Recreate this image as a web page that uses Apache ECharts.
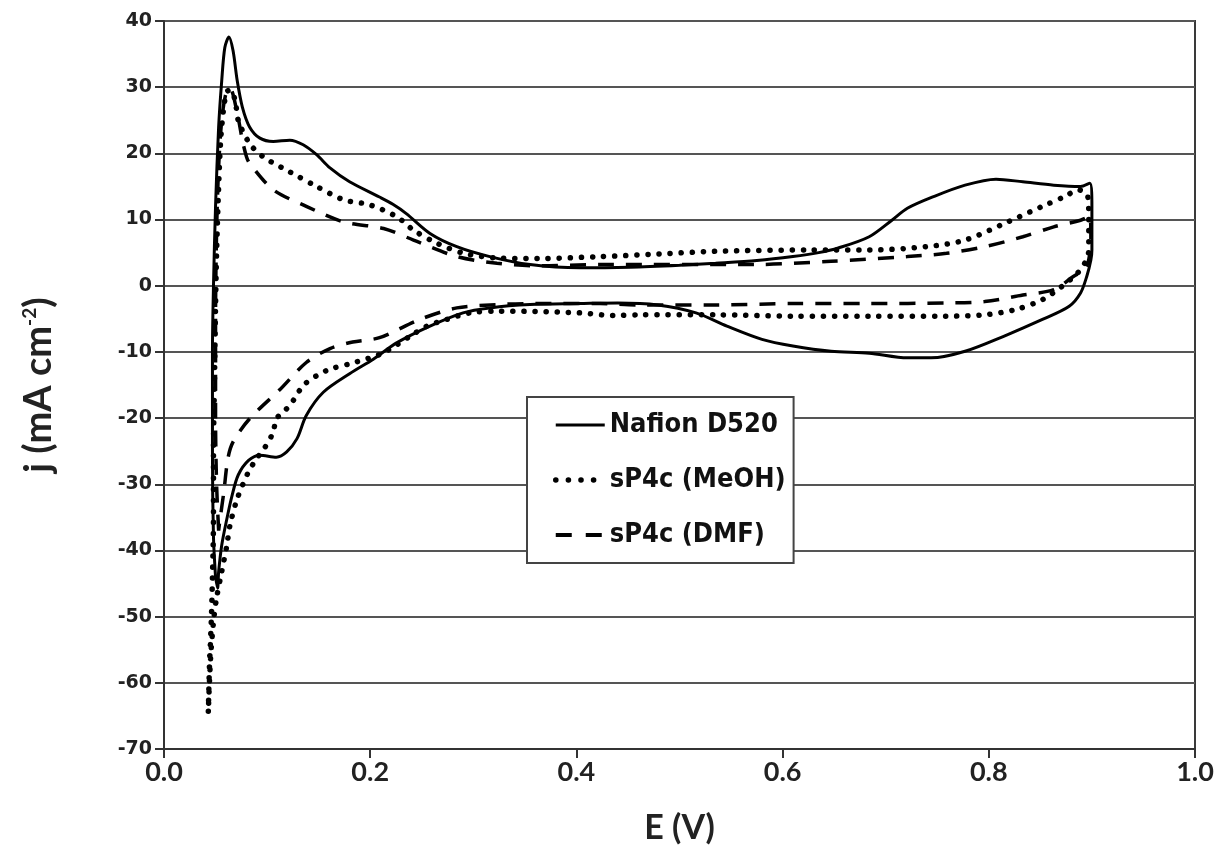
<!DOCTYPE html>
<html>
<head>
<meta charset="utf-8">
<script src="https://cdn.jsdelivr.net/npm/echarts@6/dist/echarts.min.js"></script>
<style>
html,body{margin:0;padding:0;background:#fff;}
#chart{width:1220px;height:850px;}
</style>
</head>
<body>
<div id="chart"></div>
<script>
// ---- data ----
const seriesNames = ['Nafion D520', 'sP4c (MeOH)', 'sP4c (DMF)'];
const xTicks = [0.0, 0.2, 0.4, 0.6, 0.8, 1.0];
const yTicks = [40, 30, 20, 10, 0, -10, -20, -30, -40, -50, -60, -70];

const nafionE = [0.050,0.048,0.047,0.047,0.048,0.050,0.053,0.056,0.059,0.063,0.067,0.071,0.076,0.083,0.093,0.106,0.122,0.135,0.148,0.161,0.180,0.209,0.222,0.235,0.258,0.284,0.316,0.355,0.403,0.452,0.500,0.535,0.575,0.610,0.635,0.654,0.684,0.706,0.721,0.747,0.777,0.807,0.833,0.863,0.889,0.898,0.900,0.900,0.899,0.895,0.889,0.878,0.852,0.815,0.777,0.744,0.721,0.684,0.647,0.610,0.580,0.546,0.516,0.479,0.440,0.403,0.355,0.316,0.290,0.258,0.226,0.203,0.180,0.1545,0.138,0.129,0.119,0.109,0.093,0.082,0.072,0.066,0.061,0.056,0.053,0.052,0.050];
const nafionJ = [-44,-38,-25,-10,0,12,24,31,36,37.6,35.5,31,27,24,22.3,21.8,22,21.3,19.8,17.8,15.7,13.4,12.3,10.9,7.9,5.9,4.4,3.2,2.7,2.8,3.1,3.4,3.8,4.4,5.0,5.7,7.4,9.9,11.7,13.5,15.2,16.1,15.7,15.2,15.0,15.5,12,5.4,3.9,1.4,-1.1,-3.1,-5.1,-7.6,-9.9,-10.9,-10.9,-10.2,-9.9,-9.1,-8.1,-6.1,-4.1,-2.9,-2.6,-2.7,-2.85,-3.35,-4.1,-6.1,-8.6,-11.1,-13.3,-16.1,-19.6,-23.1,-25.1,-25.9,-25.6,-26.4,-28.6,-31.7,-35.2,-39.2,-43.2,-45.7,-44];

const meohE = [0.043,0.044,0.046,0.047,0.048,0.048,0.049,0.050,0.051,0.053,0.055,0.058,0.061,0.064,0.069,0.072,0.083,0.096,0.122,0.148,0.174,0.200,0.226,0.242,0.265,0.291,0.323,0.362,0.423,0.480,0.535,0.628,0.684,0.740,0.777,0.815,0.852,0.874,0.887,0.896,0.897,0.897,0.893,0.886,0.871,0.852,0.826,0.796,0.759,0.684,0.610,0.535,0.460,0.436,0.403,0.360,0.323,0.297,0.274,0.255,0.239,0.226,0.209,0.180,0.161,0.148,0.135,0.122,0.109,0.106,0.098,0.090,0.082,0.071,0.064,0.061,0.056,0.051,0.048,0.045,0.043];
const meohJ = [-64.3,-58,-50,-44,-35,-25,-14,-3,5,15,22,27,29.3,29.6,28,25,21.5,19.5,17.2,15,13,12.2,10.4,8.4,6.4,4.9,4.2,4.1,4.4,4.8,5.2,5.4,5.4,5.9,6.9,9.4,12,13.5,14.5,13.5,10,5.4,3.4,1.9,-0.1,-2.1,-3.6,-4.4,-4.6,-4.6,-4.6,-4.4,-4.4,-4.5,-4.1,-3.9,-3.85,-4.1,-5.1,-6.1,-7.6,-8.9,-10.4,-11.8,-12.6,-13.6,-15.1,-18.1,-20.1,-22.1,-24.4,-26.1,-28.1,-32.2,-36.2,-39.2,-43.2,-47.2,-50.8,-56.8,-64.3];

const dmfE = [0.053,0.051,0.050,0.050,0.051,0.053,0.056,0.060,0.064,0.0705,0.076,0.080,0.083,0.106,0.138,0.174,0.213,0.242,0.284,0.323,0.362,0.423,0.572,0.647,0.721,0.759,0.796,0.833,0.863,0.889,0.898,0.899,0.897,0.893,0.882,0.863,0.833,0.796,0.759,0.684,0.610,0.535,0.460,0.423,0.360,0.323,0.284,0.248,0.209,0.183,0.161,0.138,0.113,0.083,0.067,0.062,0.058,0.054,0.053];
const dmfJ = [-37,-30,-20,-5,8,18,25,29,29.8,26.5,22,19.5,18.5,14.5,12,9.65,8.65,6.9,4.4,3.4,3.0,3.2,3.2,3.7,4.4,4.9,5.9,7.4,8.9,9.9,10.5,7,4,2.5,1.4,-0.6,-1.4,-2.4,-2.6,-2.7,-2.7,-2.9,-2.9,-2.7,-2.7,-2.85,-3.35,-5.1,-7.85,-8.5,-9.5,-11.6,-15.6,-20.1,-23.6,-26.1,-31.2,-35.7,-37];

function zip(a, b) { return a.map((v, i) => [v, b[i]]); }

const chart = echarts.init(document.getElementById('chart'), null, { renderer: 'canvas' });

const titleFont = 'Lato, "Open Sans", sans-serif';

const styles = [
  { color: '#000', width: 3 },
  { color: '#000', width: 5.5, type: [0.1, 11], cap: 'round' },
  { color: '#000', width: 3.5, type: [16, 12] }
];
const legendStyles = [
  { color: '#000', width: 3 },
  { color: '#000', width: 5.5, type: [0.1, 12.5], cap: 'round' },
  { color: '#000', width: 4, type: [16, 14] }
];

chart.setOption({
  backgroundColor: '#ffffff',
  animation: false,
  grid: {
    left: 164, right: 25, top: 21, bottom: 100,
    show: true, borderColor: '#3a3a3a', borderWidth: 2, backgroundColor: 'transparent'
  },
  xAxis: {
    type: 'value', min: 0, max: 1, interval: 0.2,
    name: 'E (V)', nameLocation: 'middle', nameGap: 62,
    nameTextStyle: { fontFamily: titleFont, fontWeight: 'bold', fontSize: 34, color: '#222' },
    axisLine: { show: true, onZero: false, lineStyle: { color: '#333', width: 2 } },
    axisTick: { show: true, inside: false, length: 9, lineStyle: { color: '#333', width: 2 } },
    axisLabel: { margin: 10, fontFamily: titleFont, fontWeight: 'bold', fontSize: 27, color: '#222',
      formatter: v => v.toFixed(1) },
    splitLine: { show: false }
  },
  yAxis: {
    type: 'value', min: -70, max: 40, interval: 10,
    name: '{a|j (mA cm}{s|-2}{a|)}', nameLocation: 'middle', nameGap: 106, nameRotate: 90,
    nameTextStyle: {
      rich: {
        a: { fontFamily: titleFont, fontWeight: 'bold', fontSize: 38, color: '#222' },
        s: { fontFamily: titleFont, fontWeight: 'bold', fontSize: 19, color: '#222', verticalAlign: 'top', padding: [0, 0, 16, 0] }
      }
    },
    axisLine: { show: true, onZero: false, lineStyle: { color: '#333', width: 2 } },
    axisTick: { show: true, inside: false, length: 9, lineStyle: { color: '#333', width: 2 } },
    axisLabel: { margin: 12, fontFamily: '"DejaVu Sans", Verdana, sans-serif', fontWeight: 'bold', fontSize: 19, color: '#222' },
    splitLine: { show: true, lineStyle: { color: '#555', width: 2 } }
  },
  legend: {
    orient: 'vertical', left: 527, top: 397,
    padding: [13, 8, 13, 26], itemGap: 25,
    itemWidth: 49, itemHeight: 14,
    backgroundColor: '#ffffff', borderColor: '#444', borderWidth: 2,
    itemStyle: { color: 'transparent', borderColor: 'transparent', borderWidth: 0 },
    data: seriesNames.map((n, i) => ({ name: n, lineStyle: legendStyles[i],
      itemStyle: { color: 'transparent', borderColor: 'transparent', borderWidth: 0 } })),
    textStyle: { fontFamily: '"Liberation Sans Narrow", "DejaVu Sans Condensed", "Roboto", sans-serif', fontWeight: 'bold', fontSize: 27, color: '#111', lineHeight: 30 }
  },
  series: seriesNames.map((n, i) => ({
    name: n, type: 'line',
    data: [zip(nafionE, nafionJ), zip(meohE, meohJ), zip(dmfE, dmfJ)][i],
    showSymbol: false, symbol: 'none', smooth: 0.3, z: 3,
    lineStyle: styles[i], itemStyle: { color: '#000' }
  }))
});
</script>
</body>
</html>
